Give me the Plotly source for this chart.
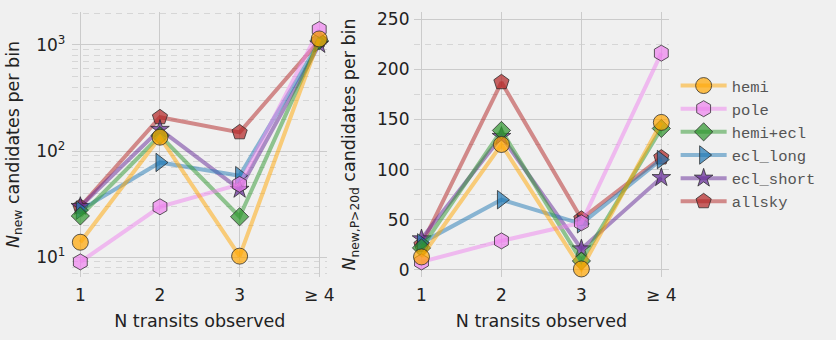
import plotly.graph_objects as go
from plotly.subplots import make_subplots

# N transits observed bins
bins = [1, 2, 3, 4]
bin_labels = ["1", "2", "3", "≥ 4"]

series_names = ["hemi", "pole", "hemi+ecl", "ecl_long", "ecl_short", "allsky"]

# left: all new candidates per bin (log)
n_new = {
    "hemi": [13.8, 135, 10.2, 1140],
    "pole": [9.0, 29.8, 48.5, 1400],
    "hemi+ecl": [24.4, 140, 24, 1100],
    "ecl_long": [27.7, 78, 58.5, 1060],
    "ecl_short": [30, 160, 43.5, 1010],
    "allsky": [29.8, 208, 150, 1100],
}

# right: new candidates with P > 20 d
n_new_p20 = {
    "hemi": [13, 125, 1, 147],
    "pole": [8, 29, 47, 216],
    "hemi+ecl": [22, 139, 9, 141],
    "ecl_long": [27, 70, 46, 110],
    "ecl_short": [31, 133, 21, 92],
    "allsky": [25, 187, 51, 112],
}

STYLE = {
    "hemi": {"rgb": (255, 165, 0), "symbol": "circle", "size": 16},
    "pole": {"rgb": (238, 130, 238), "symbol": "hexagon", "size": 16},
    "hemi+ecl": {"rgb": (44, 150, 44), "symbol": "diamond", "size": 14},
    "ecl_long": {"rgb": (31, 119, 180), "symbol": "triangle-right", "size": 16},
    "ecl_short": {"rgb": (98, 38, 150), "symbol": "star", "size": 14},
    "allsky": {"rgb": (178, 34, 34), "symbol": "pentagon", "size": 16},
}

BG = "#f0f0f0"
GRID = "#cbcbcb"
TEXT = "#222222"


def _rgba(rgb, alpha):
    return f"rgba({rgb[0]},{rgb[1]},{rgb[2]},{alpha})"


fig = make_subplots(rows=1, cols=2)

# draw in reverse so hemi ends on top, legend reversed back to normal order
for name in reversed(series_names):
    st = STYLE[name]
    for col, data in ((1, n_new), (2, n_new_p20)):
        fig.add_trace(
            go.Scatter(
                x=bins,
                y=data[name],
                mode="lines+markers",
                name=name,
                legendgroup=name,
                showlegend=(col == 1),
                line={"color": _rgba(st["rgb"], 0.5), "width": 4},
                marker={
                    "symbol": st["symbol"],
                    "size": st["size"],
                    "color": _rgba(st["rgb"], 0.7),
                    "line": {"color": "rgba(40,40,40,0.75)", "width": 1},
                },
                cliponaxis=False,
            ),
            row=1,
            col=col,
        )

tick_font = {"family": "DejaVu Sans, sans-serif", "size": 17, "color": TEXT}
title_font = {"family": "DejaVu Sans, sans-serif", "size": 17.5, "color": TEXT}

xaxis_common = {
    "range": [0.9, 4.1],
    "tickvals": bins,
    "ticktext": bin_labels,
    "showgrid": True,
    "gridcolor": GRID,
    "gridwidth": 1.3,
    "zeroline": False,
    "showline": False,
    "ticks": "",
    "ticklabelstandoff": 6,
    "tickfont": tick_font,
    "title": {"text": "N transits observed", "font": title_font, "standoff": 10},
}
fig.update_xaxes(**xaxis_common, domain=[0.0873, 0.3947], row=1, col=1)
fig.update_xaxes(**xaxis_common, domain=[0.4988, 0.8074], row=1, col=2)

minor_log = [m * 10**e for e in range(0, 4) for m in range(2, 10)]
fig.update_yaxes(
    type="log",
    range=[0.812, 3.311],
    tickvals=[10, 100, 1000],
    ticktext=["10<sup>1</sup>", "10<sup>2</sup>", "10<sup>3</sup>"],
    showgrid=True,
    gridcolor=GRID,
    gridwidth=1.3,
    zeroline=False,
    showline=False,
    ticks="",
    ticklabelstandoff=6,
    tickfont=tick_font,
    minor={"tickvals": minor_log, "showgrid": True, "gridcolor": "#d6d6d6", "griddash": "6px,5px", "gridwidth": 1.1},
    title={"text": "<i>N</i><sub>new</sub> candidates per bin", "font": title_font, "standoff": 12},
    row=1,
    col=1,
)
fig.update_yaxes(
    range=[-7, 257],
    tickvals=[0, 50, 100, 150, 200, 250],
    showgrid=True,
    gridcolor=GRID,
    gridwidth=1.3,
    zeroline=False,
    showline=False,
    ticks="",
    ticklabelstandoff=3,
    tickfont=tick_font,
    minor={"dtick": 25, "tick0": 25, "showgrid": True, "gridcolor": "#d6d6d6", "griddash": "6px,5px", "gridwidth": 1.1},
    title={"text": "<i>N</i><sub>new,P&gt;20d</sub> candidates per bin", "font": title_font, "standoff": 16},
    row=1,
    col=2,
)

fig.update_layout(
    width=836,
    height=340,
    paper_bgcolor=BG,
    plot_bgcolor=BG,
    margin={"l": 0, "r": 0, "t": 12, "b": 63},
    showlegend=True,
    legend={
        "traceorder": "reversed",
        "x": 0.815,
        "y": 0.785,
        "xanchor": "left",
        "yanchor": "top",
        "bgcolor": "rgba(0,0,0,0)",
        "font": {"family": "Courier New, Liberation Mono, monospace", "size": 15.5, "color": "#555555"},
        "tracegroupgap": 0,
        "itemwidth": 46,
    },
    font={"family": "DejaVu Sans, sans-serif", "color": TEXT},
)

# page body has a default 8px margin; drop it so the figure fills the window
fig.write_html(
    "out.html",
    config={"displayModeBar": False},
    post_script="document.body.style.margin='0';document.body.style.background='#f0f0f0';",
)
